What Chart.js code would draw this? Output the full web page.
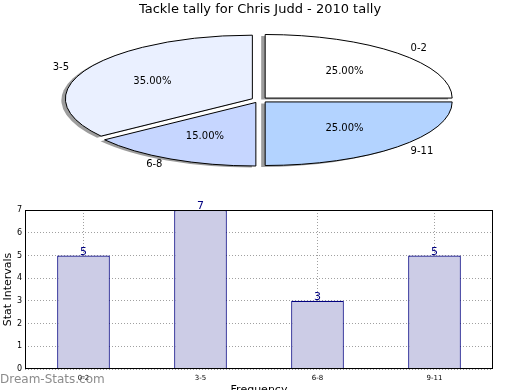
<!DOCTYPE html>
<html lang="en">
<head>
    <meta charset="UTF-8">
    <title>Tackle tally for Chris Judd - 2010 tally</title>
    <style>
        body {
            margin: 0;
            background: #fff;
            font-family: "DejaVu Sans", sans-serif;
        }
        #wrap {
            position: relative;
            width: 520px;
            height: 390px;
            overflow: hidden;
        }
        #pieBox {
            position: absolute;
            left: 0;
            top: 0;
            width: 520px;
            height: 200px;
        }
        #barBox {
            position: absolute;
            left: 0;
            top: 200px;
            width: 520px;
            height: 190px;
        }
    </style>
    <script src="https://cdn.jsdelivr.net/npm/chart.js"></script>
</head>
<body>
    <div id="wrap">
        <div id="pieBox"><canvas id="pieChart"></canvas></div>
        <div id="barBox"><canvas id="barChart"></canvas></div>
    </div>

    <script>
        // data
        const chartTitle = 'Tackle tally for Chris Judd - 2010 tally';
        const categories = ['0-2', '3-5', '6-8', '9-11'];
        const tallies = [5, 7, 3, 5];
        const sliceColors = ['#ffffff', '#eaf0ff', '#c6d6ff', '#b3d3ff'];
        const yTicks = [0, 1, 2, 3, 4, 5, 6, 7];

        const FONT = '"DejaVu Sans", sans-serif';
        const SQUASH = 0.34;   // pie is drawn as a flat ellipse
        const total = tallies.reduce((a, b) => a + b, 0);

        // chart.js goes clockwise from the top, the original went the other way,
        // so feed the slices reversed starting at 3 o'clock
        const pieLabels = categories.slice().reverse();
        const pieValues = tallies.slice().reverse();
        const pieColors = sliceColors.slice().reverse();

        function arcGeom(arc) {
            const p = arc.getProps(['x', 'y', 'startAngle', 'endAngle', 'outerRadius'], true);
            const mid = (p.startAngle + p.endAngle) / 2;
            const off = arc.options.offset;
            return {
                x: p.x, y: p.y, start: p.startAngle, end: p.endAngle, r: p.outerRadius,
                mid: mid, ox: Math.cos(mid) * off, oy: Math.sin(mid) * off
            };
        }

        function slicePath(ctx, g) {
            ctx.save();
            ctx.translate(g.x, g.y);
            ctx.scale(1, SQUASH);
            ctx.beginPath();
            ctx.moveTo(g.ox, g.oy);
            ctx.arc(g.ox, g.oy, g.r, g.start, g.end);
            ctx.closePath();
            ctx.restore();
        }

        const ellipsePie = {
            id: 'ellipsePie',
            beforeDatasetDraw(chart, args) {
                const ctx = chart.ctx;
                const geoms = args.meta.data.map(arcGeom);
                // shadows first, under every wedge
                geoms.forEach(g => {
                    ctx.save();
                    ctx.translate(-4, 1.5);
                    slicePath(ctx, g);
                    ctx.fillStyle = 'rgba(60,60,60,0.5)';
                    ctx.fill();
                    ctx.restore();
                });
                geoms.forEach((g, i) => {
                    slicePath(ctx, g);
                    ctx.fillStyle = args.meta.data[i].options.backgroundColor;
                    ctx.fill();
                    ctx.lineWidth = 1;
                    ctx.strokeStyle = '#000';
                    ctx.stroke();
                });
                return false;
            },
            afterDatasetsDraw(chart) {
                const ctx = chart.ctx;
                const meta = chart.getDatasetMeta(0);
                ctx.save();
                ctx.fillStyle = '#000';
                ctx.textBaseline = 'middle';
                ctx.font = '10px ' + FONT;
                meta.data.forEach((arc, i) => {
                    const g = arcGeom(arc);
                    const c = Math.cos(g.mid), s = Math.sin(g.mid);
                    const cx = g.x + g.ox, cy = g.y + g.oy * SQUASH;
                    const pct = (pieValues[i] / total * 100).toFixed(2) + '%';
                    ctx.textAlign = 'center';
                    ctx.fillText(pct, cx + c * g.r * 0.6, cy + s * g.r * 0.6 * SQUASH);
                    ctx.textAlign = c > 0 ? 'left' : 'right';
                    ctx.fillText(pieLabels[i], cx + c * g.r * 1.1, cy + s * g.r * 1.1 * SQUASH);
                });
                ctx.restore();
            }
        };

        new Chart(document.getElementById('pieChart'), {
            type: 'pie',
            data: {
                labels: pieLabels,
                datasets: [{
                    data: pieValues,
                    backgroundColor: pieColors,
                    borderColor: '#000',
                    borderWidth: 1,
                    offset: 8
                }]
            },
            options: {
                responsive: true,
                maintainAspectRatio: false,
                animation: false,
                rotation: 90,
                radius: 187,
                layout: { padding: { left: 0, right: 1, top: 0, bottom: 0 } },
                plugins: {
                    legend: { display: false },
                    tooltip: { enabled: false },
                    title: { display: false }
                }
            },
            plugins: [ellipsePie, {
                id: 'topTitle',
                afterDraw(chart) {
                    const ctx = chart.ctx;
                    ctx.save();
                    ctx.fillStyle = '#000';
                    ctx.font = '13px ' + FONT;
                    ctx.textAlign = 'center';
                    ctx.textBaseline = 'middle';
                    ctx.fillText(chartTitle, 260, 10);
                    ctx.restore();
                }
            }]
        });

        // bar chart extras: frame, value labels, watermark
        const barExtras = {
            id: 'barExtras',
            afterDraw(chart) {
                const ctx = chart.ctx;
                const a = chart.chartArea;
                ctx.save();
                ctx.strokeStyle = '#000';
                ctx.lineWidth = 1;
                ctx.strokeRect(a.left + 0.5, a.top + 0.5, a.right - a.left - 1, a.bottom - a.top - 1);

                ctx.fillStyle = '#000080';
                ctx.font = '11px ' + FONT;
                ctx.textAlign = 'center';
                ctx.textBaseline = 'bottom';
                chart.getDatasetMeta(0).data.forEach((bar, i) => {
                    ctx.fillText(String(tallies[i]), bar.x, bar.y + 2);
                });

                ctx.fillStyle = 'rgba(110,110,110,0.8)';
                ctx.font = '12px ' + FONT;
                ctx.textAlign = 'left';
                ctx.textBaseline = 'middle';
                ctx.fillText('Dream-Stats.com', 0, 180);
                ctx.restore();
            }
        };

        new Chart(document.getElementById('barChart'), {
            type: 'bar',
            data: {
                labels: categories,
                datasets: [{
                    data: tallies,
                    backgroundColor: '#cccce6',
                    borderColor: '#000080',
                    borderWidth: 1.2,
                    barPercentage: 0.45,
                    categoryPercentage: 1
                }]
            },
            options: {
                responsive: true,
                maintainAspectRatio: false,
                animation: false,
                layout: { padding: { left: 0, right: 27, top: 10, bottom: 0 } },
                plugins: {
                    legend: { display: false },
                    tooltip: { enabled: false }
                },
                scales: {
                    x: {
                        offset: true,
                        grid: {
                            offset: false,
                            color: '#a0a0a0',
                            drawTicks: false
                        },
                        border: { display: false, dash: [1, 2] },
                        ticks: {
                            color: '#000',
                            font: { family: FONT, size: 7 },
                            padding: 5
                        },
                        title: {
                            display: true,
                            text: 'Frequency',
                            color: '#000',
                            font: { family: FONT, size: 11 },
                            padding: { top: 0, bottom: -7 }
                        },
                        afterFit(scale) { scale.height = 21; }
                    },
                    y: {
                        min: 0,
                        max: 7,
                        afterBuildTicks(scale) { scale.ticks = yTicks.map(v => ({ value: v })); },
                        grid: {
                            color: '#a0a0a0',
                            drawTicks: false
                        },
                        border: { display: false, dash: [1, 2] },
                        ticks: {
                            color: '#000',
                            font: { family: FONT, size: 8 },
                            padding: 3
                        },
                        title: {
                            display: true,
                            text: 'Stat Intervals',
                            color: '#000',
                            font: { family: FONT, size: 11 },
                            padding: { top: 2, bottom: 0 }
                        },
                        afterFit(scale) { scale.width = 25; }
                    }
                }
            },
            plugins: [barExtras]
        });
    </script>
</body>
</html>
